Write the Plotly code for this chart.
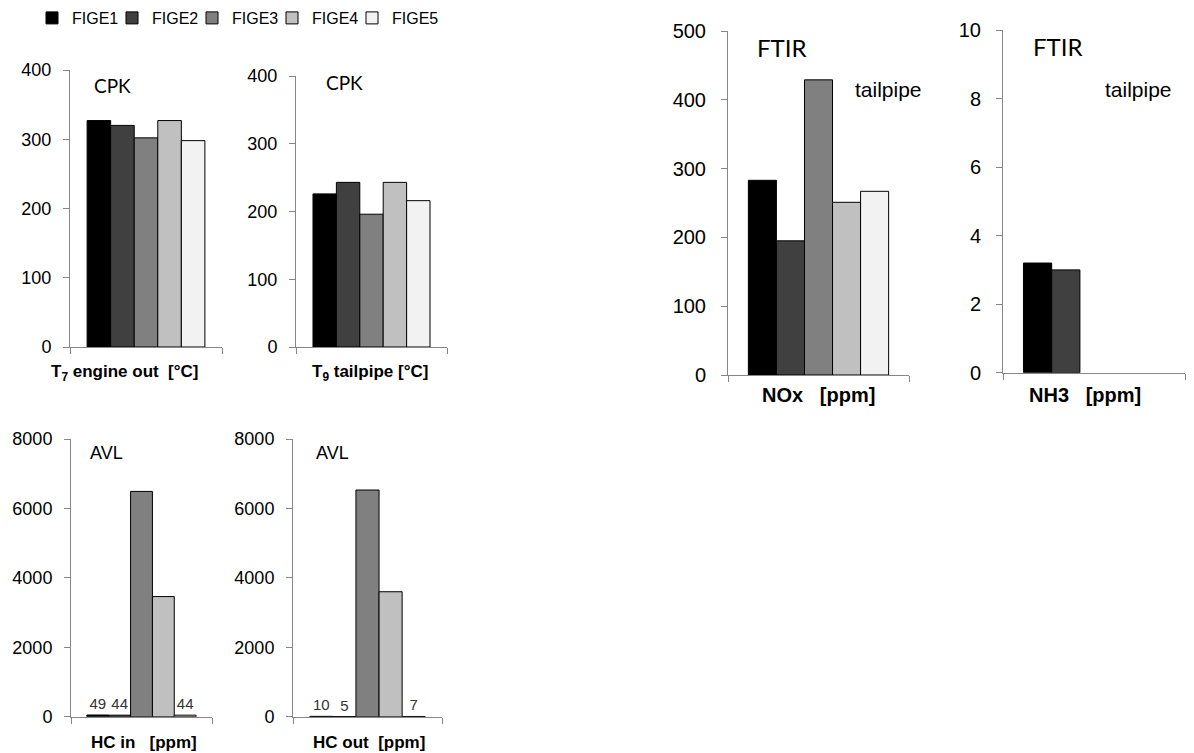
import plotly.graph_objects as go

W, H = 1194, 753

series = ["FIGE1", "FIGE2", "FIGE3", "FIGE4", "FIGE5"]
colors = ["#000000", "#404040", "#808080", "#c0c0c0", "#f2f2f2"]

t7_engine_out = [327, 320, 302, 327, 298]
t9_tailpipe = [226, 243, 196, 243, 216]
hc_in = [49, 44, 6490, 3460, 44]
hc_in_labels = ["49", "44", "", "", "44"]
hc_out = [10, 5, 6530, 3600, 7]
hc_out_labels = ["10", "5", "", "", "7"]
nox = [283, 195, 429, 251, 267]
nh3 = [3.2, 3.0, None, None, None]

ticks_temp = [0, 100, 200, 300, 400]
ticks_hc = [0, 2000, 4000, 6000, 8000]
ticks_nox = [0, 100, 200, 300, 400, 500]
ticks_nh3 = [0, 2, 4, 6, 8, 10]

# panel layout in pixels: (x0, x1, y_zero_px, y_top_px)
panels = [
    dict(vals=t7_engine_out, labels=None, ticks=ticks_temp, box=(70, 222, 347, 70),
         xlabel="T<sub>7</sub> engine out\u00a0\u00a0[°C]", xl=(125, 373), xls=17,
         notes=[("CPK", 112, 85, "Lato", 19)], tfs=18, sto=8),
    dict(vals=t9_tailpipe, labels=None, ticks=ticks_temp, box=(296, 447, 347, 76),
         xlabel="T<sub>9</sub> tailpipe [°C]", xl=(370, 373), xls=17,
         notes=[("CPK", 345, 82, "Lato", 19)], tfs=18, sto=8),
    dict(vals=hc_in, labels=hc_in_labels, ticks=ticks_hc, box=(71, 212, 716.7, 439),
         xlabel="HC in\u00a0\u00a0\u00a0[ppm]", xl=(144, 742), xls=17,
         notes=[("AVL", 106, 453, "Liberation Sans", 18)], tfs=18, sto=8),
    dict(vals=hc_out, labels=hc_out_labels, ticks=ticks_hc, box=(293, 442, 716.7, 439),
         xlabel="HC out\u00a0\u00a0[ppm]", xl=(369, 742), xls=17,
         notes=[("AVL", 332, 453, "Liberation Sans", 18)], tfs=18, sto=8),
    dict(vals=nox, labels=None, ticks=ticks_nox, box=(728, 909, 375, 31),
         xlabel="NOx\u00a0\u00a0\u00a0[ppm]", xl=(818, 395), xls=20,
         notes=[("FTIR", 782, 48, "Lato", 24), ("tailpipe", 888, 89, "Liberation Sans", 21)],
         tfs=20, sto=11),
    dict(vals=nh3, labels=None, ticks=ticks_nh3, box=(1003, 1185, 372.7, 30),
         xlabel="NH3\u00a0\u00a0\u00a0[ppm]", xl=(1085, 395), xls=20,
         notes=[("FTIR", 1058, 47, "Lato", 24), ("tailpipe", 1138, 89, "Liberation Sans", 21)],
         tfs=20, sto=11),
]

fig = go.Figure()
annotations = []
axis_color = "#868686"
legend_ids = ["legend", "legend2", "legend3", "legend4", "legend5"]

for i, p in enumerate(panels):
    n = "" if i == 0 else str(i + 1)
    cat = "c%d" % (i + 1)
    for k, s in enumerate(series):
        v = p["vals"][k]
        tr = dict(
            x=[cat], y=[v], name=s, legendgroup=s, showlegend=(i == 0),
            legend=legend_ids[k],
            marker=dict(color=colors[k], line=dict(color="#000000", width=1)),
            xaxis="x" + n, yaxis="y" + n, hoverinfo="skip",
        )
        if p["labels"] is not None and p["labels"][k]:
            tr.update(text=[p["labels"][k]], textposition="outside",
                      textfont=dict(family="Liberation Sans", size=15, color="#333333"),
                      constraintext="none", cliponaxis=False)
        fig.add_trace(go.Bar(**tr))
    x0, x1, yz, yt = p["box"]
    fig.layout["xaxis" + n] = dict(
        domain=[x0 / W, x1 / W], anchor="y" + n, type="category",
        range=[-0.5, 0.5], showline=True, linecolor=axis_color, linewidth=1,
        ticks="outside", tickson="boundaries", ticklen=6, tickcolor=axis_color,
        showticklabels=False, showgrid=False, zeroline=False, fixedrange=True,
        automargin=False,
    )
    fig.layout["yaxis" + n] = dict(
        domain=[1 - yz / H, 1 - yt / H], anchor="x" + n,
        range=[p["ticks"][0], p["ticks"][-1]], tickvals=p["ticks"],
        showline=True, linecolor=axis_color, linewidth=1,
        ticks="outside", ticklen=6, tickcolor=axis_color, ticklabelstandoff=p["sto"],
        tickfont=dict(family="Liberation Sans", size=p["tfs"], color="#000000"),
        showgrid=False, zeroline=False, fixedrange=True, automargin=False,
    )
    annotations.append(dict(
        text="<b>%s</b>" % p["xlabel"], x=p["xl"][0] / W, y=1 - p["xl"][1] / H,
        xref="paper", yref="paper", showarrow=False, xanchor="center", yanchor="middle",
        font=dict(family="Liberation Sans", size=p["xls"], color="#000000"),
    ))
    for (t, ax, ay, fam, fs) in p["notes"]:
        annotations.append(dict(
            text=t, x=ax / W, y=1 - ay / H, xref="paper", yref="paper",
            showarrow=False, xanchor="center", yanchor="middle",
            font=dict(family=fam, size=fs, color="#000000"),
        ))

legend_font = dict(family="Liberation Sans", size=16, color="#000000")
for k, lid in enumerate(legend_ids):
    fig.layout[lid] = dict(
        orientation="h", x=(32 + 80 * k) / W, y=1 - 1 / H, xanchor="left", yanchor="top",
        font=legend_font, itemwidth=30, bgcolor="rgba(0,0,0,0)",
    )

fig.update_layout(
    width=W, height=H, margin=dict(l=0, r=0, t=0, b=0, autoexpand=False),
    paper_bgcolor="white", plot_bgcolor="white",
    barmode="group", bargap=0.225, bargroupgap=0,
    showlegend=True,
    annotations=annotations,
)

fig.write_html("out.html", config={"displayModeBar": False},
               post_script="document.body.style.margin='0px';document.body.style.overflow='hidden';")
